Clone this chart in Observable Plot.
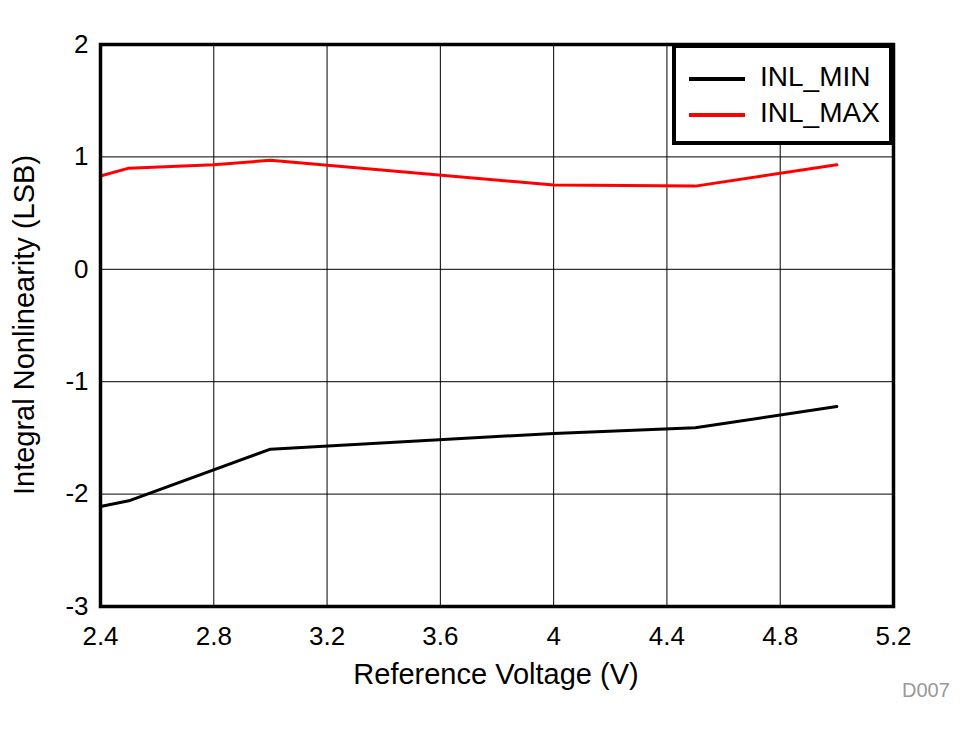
<!DOCTYPE html>
<html><head><meta charset="utf-8">
<script src="https://cdn.jsdelivr.net/npm/d3@7"></script>
<script src="https://cdn.jsdelivr.net/npm/@observablehq/plot@0.6"></script>
<style>
body{margin:0;background:#fff;font-family:"Liberation Sans",Arial,sans-serif;}
#wrap{position:relative;width:976px;height:734px;}
#legend{position:absolute;left:672px;top:44px;width:213px;height:93px;border:4px solid #000;background:#fff;box-sizing:content-box;}
.li{position:absolute;left:13px;font-size:28px;line-height:28px;white-space:nowrap;}
.li span{display:inline-block;width:56px;height:4px;vertical-align:middle;margin-right:15px;}
#code{position:absolute;left:902px;top:679px;font-size:20px;color:#999;}
</style></head>
<body><div id="wrap"></div>
<script>
const voltage_min = [2.4, 2.5, 3.0, 4.0, 4.5, 5.0];
const inl_min = [-2.11, -2.06, -1.60, -1.46, -1.41, -1.22];
const voltage_max = [2.4, 2.5, 2.8, 3.0, 4.0, 4.5, 5.0];
const inl_max = [0.83, 0.90, 0.93, 0.97, 0.75, 0.74, 0.93];
const xTicks = [2.4, 2.8, 3.2, 3.6, 4, 4.4, 4.8, 5.2];
const yTicks = [-3, -2, -1, 0, 1, 2];
const seriesNames = ["INL_MIN", "INL_MAX"];
const seriesColors = ["#000000", "#ff0000"];

const dMin = voltage_min.map((v,i)=>({x:v,y:inl_min[i]}));
const dMax = voltage_max.map((v,i)=>({x:v,y:inl_max[i]}));

const chart = Plot.plot({
  width: 976, height: 734,
  marginLeft: 100, marginRight: 83, marginTop: 44, marginBottom: 128,
  style: {fontSize: "26px", fontFamily: "Liberation Sans, Arial, sans-serif", color: "#000", background: "#fff"},
  x: {domain: [2.4, 5.2], ticks: xTicks, tickFormat: d => String(d), label: null, tickSize: 0, tickPadding: 20},
  y: {domain: [-3, 2], ticks: yTicks, tickFormat: d => String(d), label: null, tickSize: 0, tickPadding: 12},
  marks: [
    Plot.gridX(xTicks, {stroke: "#000", strokeOpacity: 1, strokeWidth: 1}),
    Plot.gridY(yTicks, {stroke: "#000", strokeOpacity: 1, strokeWidth: 1}),
    Plot.line(dMax, {x: "x", y: "y", stroke: seriesColors[1], strokeWidth: 3}),
    Plot.line(dMin, {x: "x", y: "y", stroke: seriesColors[0], strokeWidth: 3}),
    Plot.frame({stroke: "#000", strokeWidth: 3.5})
  ]
});
const wrap = document.getElementById("wrap");
wrap.appendChild(chart);
const svg = d3.select(chart);
svg.append("text").attr("x", 496).attr("y", 684).attr("text-anchor", "middle")
  .attr("font-size", 29).attr("fill", "#000").text("Reference Voltage (V)");
svg.append("text").attr("transform", "translate(34,325) rotate(-90)").attr("text-anchor", "middle")
  .attr("font-size", 29).attr("fill", "#000").text("Integral Nonlinearity (LSB)");

const leg = document.createElement("div");
leg.id = "legend";
seriesNames.forEach((n,i)=>{
  const d = document.createElement("div");
  d.className = "li";
  d.style.top = (15 + i*36) + "px";
  d.innerHTML = `<span style="background:${seriesColors[i]}"></span>${n}`;
  leg.appendChild(d);
});
wrap.appendChild(leg);
const code = document.createElement("div");
code.id = "code"; code.textContent = "D007";
wrap.appendChild(code);
</script></body></html>
